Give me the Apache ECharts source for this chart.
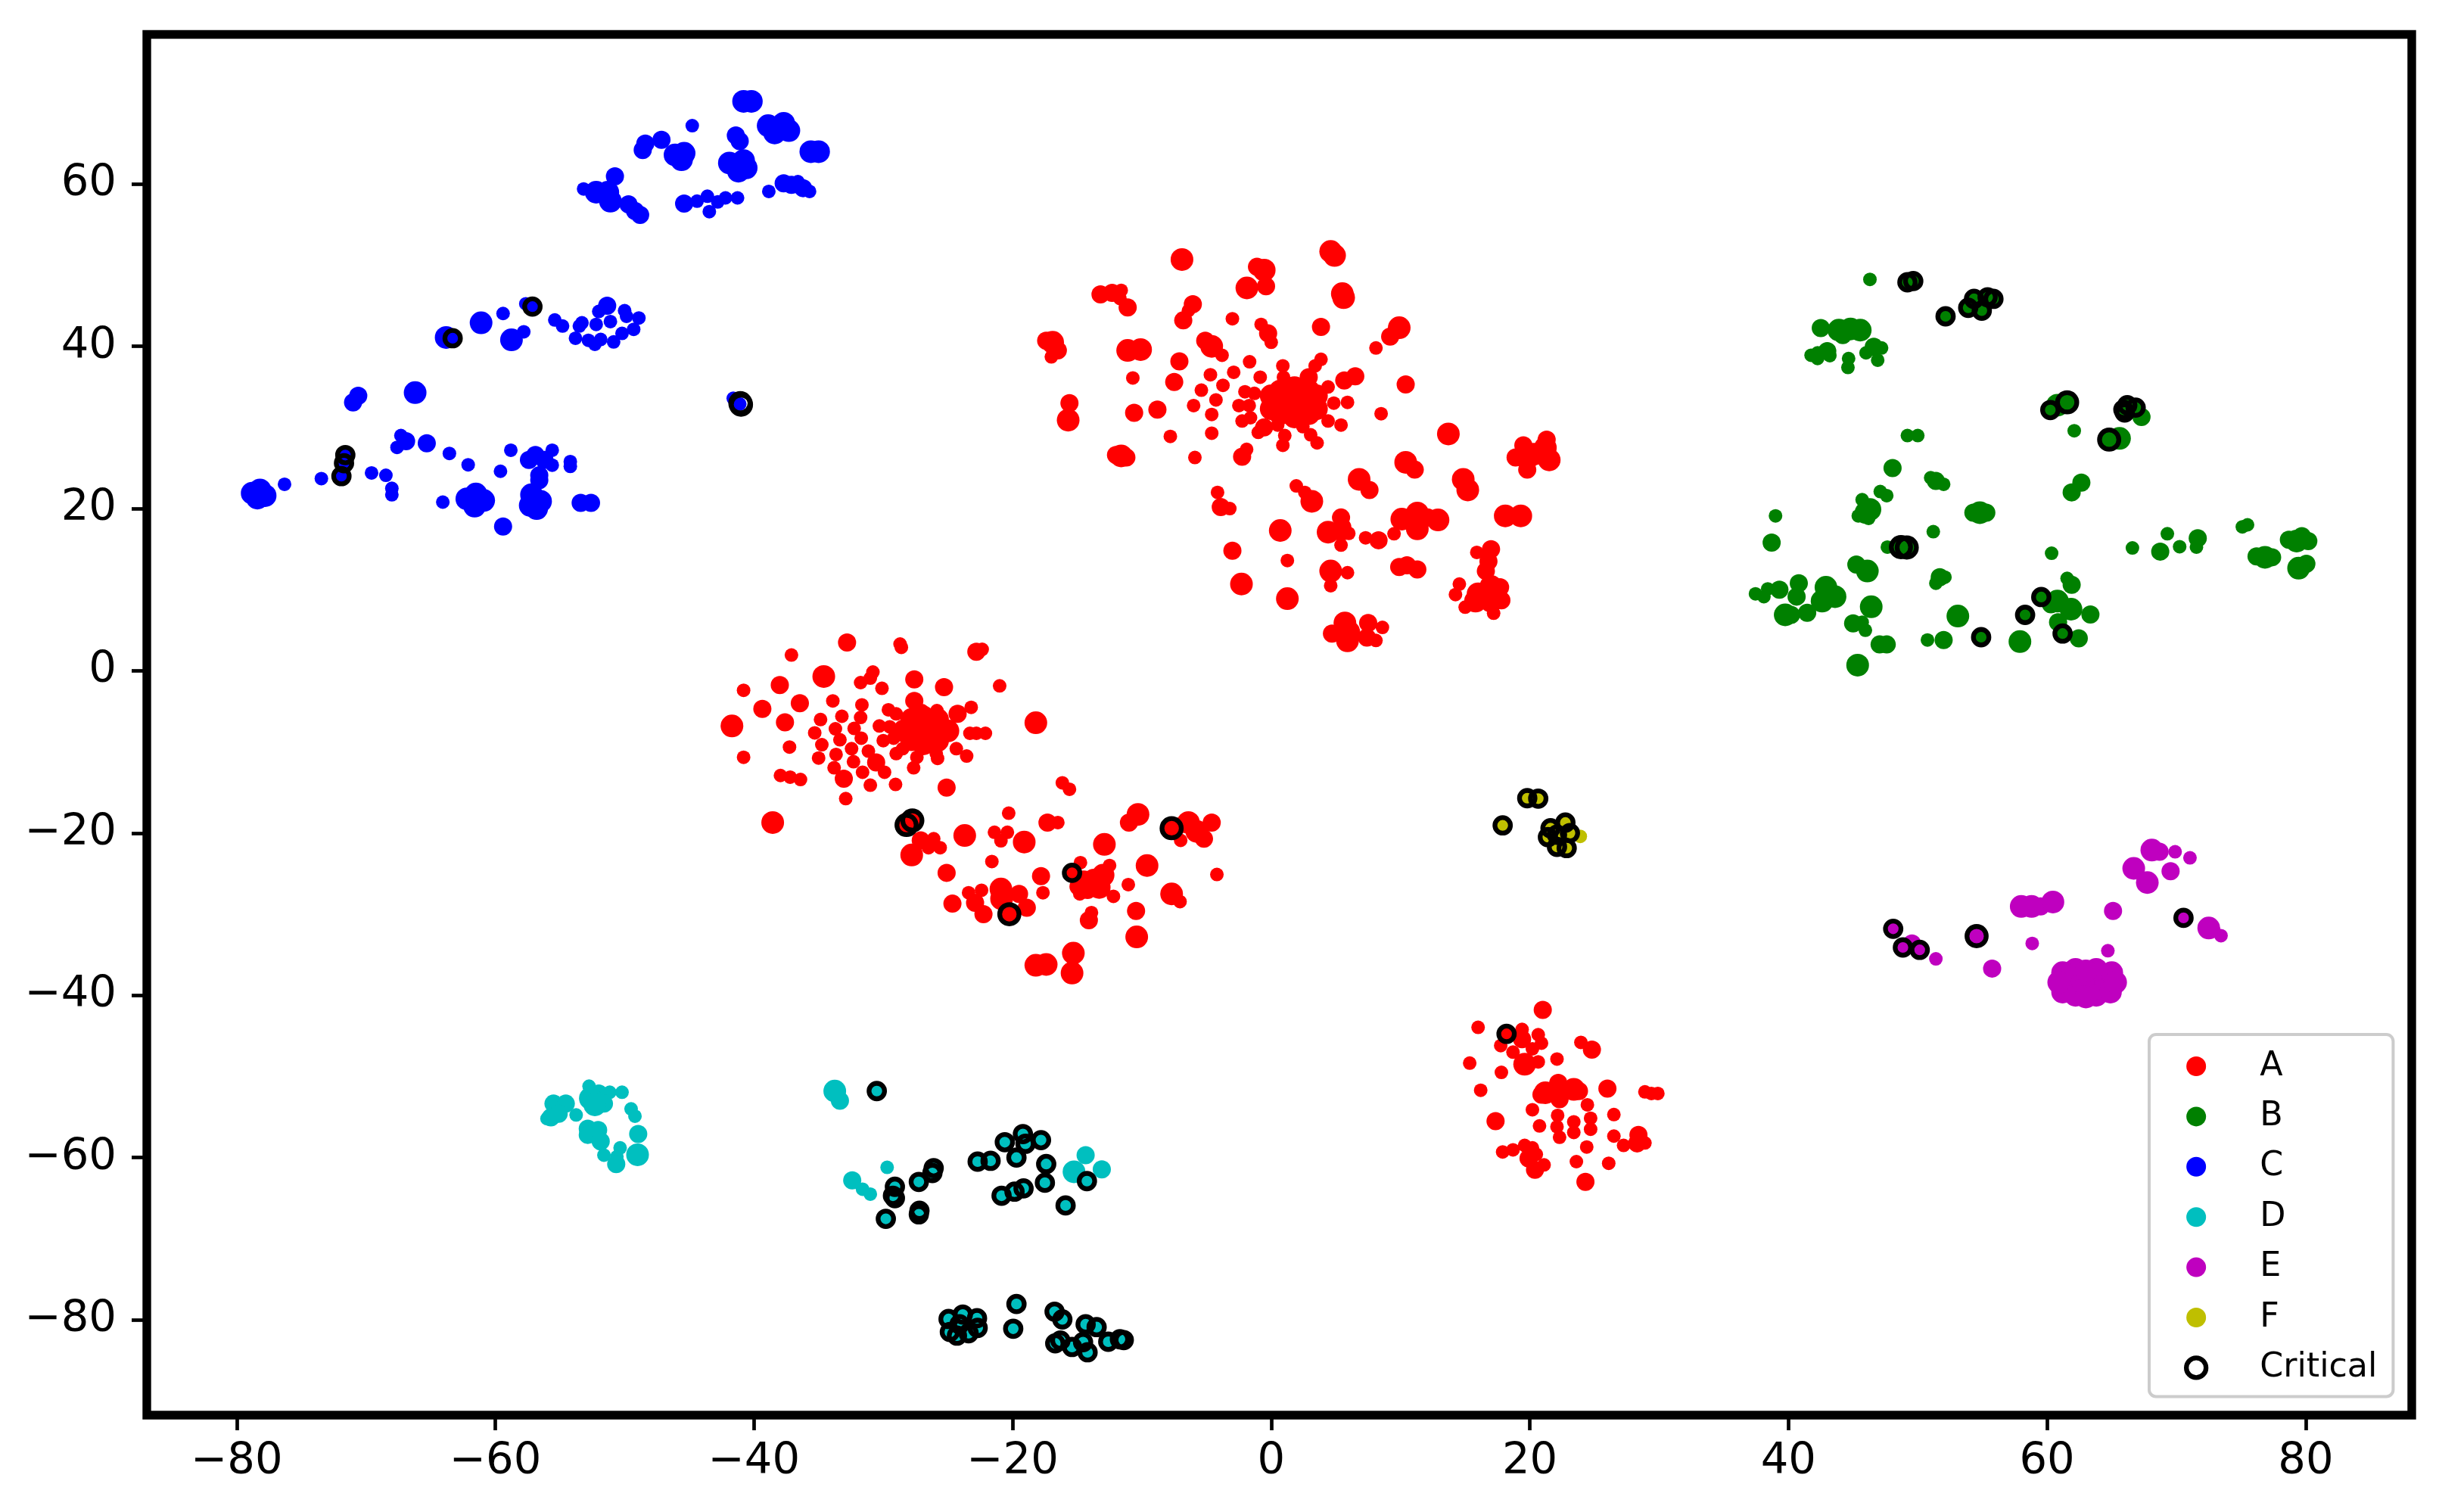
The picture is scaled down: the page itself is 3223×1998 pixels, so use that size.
<!DOCTYPE html>
<html><head><meta charset="utf-8">
<script src="https://cdn.jsdelivr.net/npm/echarts@6/dist/echarts.min.js"></script>
<style>html,body{margin:0;padding:0;background:#fff}#c{width:3223px;height:1998px}</style>
</head><body><div id="c"></div>
<script>
const xTicks=[-80,-60,-40,-20,0,20,40,60,80];
const yTicks=[-80,-60,-40,-20,0,20,40,60];
const legendNames=['A','B','C','D','E','F','Critical'];

const aSmall=[[-3,43.4],[-0.78,42.7],[0,40.5],[8.1,39.8],[-17,38.7],[-3.8,38.9],[-1.67,38.1],[3.85,38.4],[3.4,37.6],[-10.7,36.1],[-4.7,36.5],[-2.9,36.8],[-3.73,35.2],[-5.4,34.6],[-2.03,34.4],[-1.3,34.2],[-4.27,33.4],[-6,32.7],[-2.5,32.7],[-1.7,32.7],[-4.6,31.6],[-2.25,30.8],[-1.6,31.2],[-4.6,29.3],[-7.8,28.9],[4.84,33],[5.9,33.1],[8.5,31.7],[4.4,35],[4.4,30.8],[5.4,30.3],[0.9,37.6],[0.95,36.2],[-0.85,36.2],[3.6,32.2],[-1,29.4],[0.5,30.3],[1.05,29],[0.9,27.8],[3.05,29.1],[3.55,28.1],[2.45,30.1],[-5.9,26.3],[-1.9,27.3],[1.94,22.8],[2.6,22],[-4.15,22],[-3.2,20],[5.4,15.5],[6,16.95],[7.3,16.4],[9.5,16.9],[1.25,13.6],[4.6,10.5],[5.9,12.1],[15.9,14.6],[14.55,10.7],[14.25,9.4],[15,7.85],[17.2,7.1],[8.1,3.75],[8.6,5.35],[-11.7,45.9],[-11.6,46.9],[-6.4,44.4],
[-28.7,3.3],[-28.6,2.9],[-22.35,2.65],[-37.1,1.95],[-30.8,-0.15],[-31,-0.9],[-31.75,-1.45],[-30.1,-2.15],[-40.8,-2.4],[-21,-1.85],[-33.9,-3.7],[-31.65,-4.2],[-29.6,-4.8],[-29,-5.3],[-23.2,-4.5],[-25.85,-4.9],[-34.85,-6],[-33.2,-5.6],[-31.75,-5.75],[-33.7,-7.15],[-32.25,-7.1],[-30.3,-6.8],[-29.5,-6.9],[-27,-4.9],[-23.3,-7.7],[-22.8,-7.7],[-22.1,-7.7],[-35.3,-7.65],[-31.7,-8.3],[-33.35,-8.5],[-30,-8.6],[-29.2,-8.3],[-34.75,-9.1],[-37.25,-9.4],[-32.45,-9.6],[-31.15,-9.9],[-28.5,-9.6],[-29,-10.2],[-24.35,-9.6],[-23.55,-10.5],[-25.9,-10.2],[-25.8,-10.8],[-27.4,-10.65],[-27.65,-11.95],[-40.8,-10.65],[-35,-10.75],[-33.65,-10.3],[-32.3,-11.2],[-33.8,-11.95],[-31.6,-12.5],[-29.9,-12.5],[-37.95,-12.9],[-37.2,-13.1],[-36.4,-13.4],[-31,-14.1],[-29.05,-14],[-32.9,-15.75],[-16.15,-13.8],[-15.6,-14.6],
[-20.3,-17.55],[-16.5,-18.7],[-7,-20.9],[-21.4,-19.9],[-20.4,-19.9],[-20.9,-20.95],[-26.1,-20.7],[-26.5,-21.8],[-25.6,-21.8],[-21.6,-23.5],[-15.4,-24.9],[-14.75,-23.65],[-12.5,-24],[-4.2,-25.1],[-17.65,-27.35],[-11.05,-26.35],[-14.8,-27.5],[-12.2,-27.8],[-23.4,-27.35],[-22.4,-27.05],[-7.05,-28.45],[-13.9,-29.8],
[16,-43.95],[18.2,-44.75],[19.4,-44.2],[20.65,-44.85],[20.9,-45.9],[17.75,-46.2],[18.7,-47],[20.2,-46.6],[23.95,-45.8],[22.1,-47.85],[15.35,-48.35],[20.65,-48.2],[17.8,-49.5],[16.2,-51.7],[29.4,-52.1],[29.9,-52.1],[28.9,-51.9],[24.45,-53.5],[20.2,-54.1],[22.15,-54.8],[24.7,-55.15],[26.5,-54.7],[20.75,-56.1],[22.1,-56.2],[23.4,-55.6],[23.4,-56.9],[24.7,-56.5],[22.3,-57.5],[26.5,-57.35],[27.25,-58.5],[28.9,-58.2],[24.4,-58.7],[17.9,-59.3],[18.7,-59.05],[19.6,-58.5],[20.2,-58.8],[21.1,-60.9],[20.5,-59.6],[23.6,-60.5],[26.1,-60.7]];
const aMedium=[[-1.1,49.8],[-0.4,47.4],[-13.2,46.4],[-12.3,46.6],[-11.1,44.8],[-6.06,45.2],[-6.8,43.2],[-0.24,41.6],[3.85,42.4],[9.2,41.2],[-16.5,39.5],[-17.4,40.7],[-5.1,40.7],[-7.1,38.15],[5.65,35.8],[6.5,36.3],[-7.5,35.6],[-10.6,31.8],[-8.8,32.2],[-15.6,33],[10.4,35.3],[2.9,36.2],[-0.55,30],[-12,26.6],[-11.2,26.3],[-2.25,26.4],[11.1,24.8],[21.3,28.5],[19.5,27.8],[18.9,26.3],[19.8,24.8],[7.6,22.3],[-3.9,20.2],[5.4,18.9],[5.5,17.7],[5.4,17.1],[12.1,18.9],[8.3,16.1],[-3,14.8],[9.9,12.8],[10.5,13],[11.3,12.5],[17,15],[16.6,12.3],[16.8,13.5],[17.7,10.3],[17.8,8.7],[4.7,4.6],[7.5,5.9],[7.4,4.1],
[-32.8,3.5],[-22.8,2.35],[-38,-1.75],[-27.6,-1.05],[-25.3,-2],[-36.45,-4],[-39.35,-4.7],[-27.6,-3.7],[-24.25,-5.3],[-37.6,-6.35],[-30.55,-11.3],[-33.05,-13.3],[-25.1,-14.4],
[-7.7,-19.4],[-17.3,-18.7],[-11,-18.7],[-4.6,-18.7],[-7.3,-19.2],[-5.2,-20.7],[-27.1,-20.9],[-25.1,-24.9],[-17.8,-25.3],[-14.2,-27],[-14.9,-26.6],[-19.5,-27.5],[-18.9,-29.2],[-22.9,-28.6],[-24.65,-28.7],[-22.25,-30],[-10.45,-29.6],[-14.1,-30.75],
[21,-41.8],[19.4,-45.4],[24.8,-46.7],[22.2,-50.8],[23.8,-51.8],[20.9,-52.25],[22.3,-52.8],[26,-51.5],[17.35,-55.5],[28.4,-57.2],[28.3,-58.25],[19.9,-60.1],[20.4,-61.5],[24.3,-63]];
const aLarge=[[4.6,51.7],[4.9,51.2],[-6.9,50.7],[-0.54,49.4],[-1.88,47.2],[5.5,46.5],[5.6,46],[9.9,42.3],[-16.9,40.5],[-11.1,39.5],[-10.1,39.6],[-4.6,40],[-15.7,30.9],[1.7,33.1],[0.5,33.1],[2.9,33.1],[0.7,34.5],[1.8,34.9],[2.9,34.5],[0.7,31.7],[1.8,31.3],[2.9,31.7],[0,33.9],[3.5,33.9],[0,32.3],[3.5,32.3],[1.3,33.8],[2.3,32.3],[-11.6,26.5],[13.7,29.2],[10.4,25.7],[20.3,26.7],[19.8,26.2],[21.5,26],[21.2,27.5],[6.8,23.6],[14.85,23.6],[15.2,22.3],[3.14,20.9],[0.7,17.3],[4.4,17.1],[11.3,19.45],[10.1,18.7],[12.9,18.6],[11.3,17.5],[18.1,19.1],[19.3,19.1],[4.6,12.3],[-2.3,10.7],[1.25,8.9],[16,9.5],[17,10.4],[15.8,8.6],[17,8.6],[16.5,9.5],[5.7,5.9],[5.9,3.7],[6,4.8],
[-34.6,-0.7],[-41.7,-6.8],[-18.2,-6.4],[-26.7,-7.25],[-27.8,-7.2],[-25.6,-7.3],[-26.9,-5.7],[-25.8,-6],[-27.8,-6],[-26.9,-9],[-25.8,-8.6],[-27.8,-8.5],[-28.4,-7.4],[-25,-7.4],
[-28,-18.7],[-20.25,-30],[-38.55,-18.7],[-10.3,-17.7],[-6.4,-18.7],[-5.75,-19.8],[-12.9,-21.4],[-23.7,-20.3],[-19.1,-21.1],[-27.8,-22.7],[-13.7,-25.8],[-14.5,-26],[-13,-25.2],[-13.3,-26.7],[-9.6,-24],[-20.9,-26.9],[-20.85,-28.1],[-7.7,-27.5],[-10.4,-32.8],[-15.3,-34.8],[-15.4,-37.25],[-18.2,-36.3],[-17.4,-36.2],
[19.6,-48.5],[22.35,-51.8],[21.2,-52],[23.4,-51.6]];

const bSmall=[[46.3,48.25],[49.2,47.9],[49.65,48.05],[52.15,43.7],[54.35,45.85],[53.9,44.75],[54.95,44.4],[55.4,46.05],[55.85,45.85],[42.25,39.2],[41.75,38.9],[42.25,38.5],[43.2,38.85],[44.65,38.5],[44.6,37.4],[46,39.2],[47.2,39.8],[46.9,38.3],[66,31.85],[66.2,32.75],[66.85,32.45],[65.9,32.2],[60.25,32.15],[62.1,29.6],[49.2,29],[50,29],[51,23.8],[52,23],[47.1,22.1],[47.6,21.6],[45.7,21.1],[45.4,19.1],[46.2,18.8],[39,19.1],[51.2,17.15],[47.65,15.25],[75.1,17.75],[75.5,18],[69.3,16.9],[71.55,15.25],[70.25,15.3],[66.6,15.15],[60.35,14.5],[51.4,10.8],[52.1,11.55],[61.55,11.4],[38.4,10.1],[37.45,9.5],[38.1,9.15],[59.55,9.1],[58.3,6.9],[45.7,6],[45.95,5],[61.2,4.6],[54.9,4.15],[50.75,3.8]];
const bMedium=[[42.5,42.25],[44.2,41.4],[43,39.4],[46.6,39.95],[67.3,31.3],[48.05,25],[51.4,23.4],[62.65,23.2],[61.9,22],[54.3,19.5],[55.3,19.5],[38.7,15.8],[48.7,15.25],[49.15,15.2],[71.65,16.35],[68.75,14.7],[78.7,16.15],[80.2,16],[79.7,16.6],[76.2,14.1],[77.4,14],[80.05,13.2],[45.25,13.1],[51.7,11.55],[61.9,10.6],[40.8,10.8],[40.63,9.15],[39.3,10],[60.3,8.2],[63.35,6.95],[40.2,6.9],[41.45,7.15],[60.85,6],[45,5.85],[62.45,4],[52,3.8],[47.05,3.25],[47.6,3.25],[61.55,33.1],[64.8,28.5]];
const bLarge=[[43.9,42],[44.8,42.15],[45.55,42],[60.8,32.75],[65.6,28.65],[46,19.5],[46.3,19.9],[54.8,19.5],[79.3,16],[76.85,14],[79.45,12.65],[46.1,12.3],[42.9,10.3],[43.6,9.15],[42.6,8.6],[46.4,7.9],[60.8,8.6],[61.85,7.6],[53.1,6.75],[39.75,6.9],[57.9,3.6],[45.35,0.7]];

const cSmall=[[-44.77,67.2],[-53.17,59.4],[-44.4,57.9],[-43.6,58.5],[-42.8,57.8],[-42.2,58.3],[-41.27,58.3],[-43.45,56.6],[-38.85,59.1],[-35.7,59.1],[-36.6,60.3],[-57.64,45.25],[-57.13,44.9],[-59.4,44.05],[-63.3,41],[-57.8,41.8],[-55.4,43.25],[-54.8,42.5],[-53.3,42.9],[-53.5,42.5],[-52,44.3],[-52.2,42.7],[-51.1,43.05],[-50,44.4],[-49.85,43.7],[-48.9,43.5],[-49.3,42.1],[-50.2,41.6],[-50.85,40.55],[-53.8,41],[-52.8,40.75],[-52.3,40.25],[-51.85,40.85],[-41.6,33.6],[-41.1,32.9],[-67.3,29],[-67.6,27.55],[-63.55,26.8],[-62.1,25.4],[-59.6,24.6],[-58.8,27.2],[-55.6,27.2],[-55.6,25.35],[-54.2,25.8],[-54.2,25.2],[-71.4,26.7],[-71.6,26.6],[-71.7,25.6],[-71.9,24],[-73.45,23.7],[-76.3,23],[-69.57,24.4],[-68.46,24.1],[-68,22.5],[-68,21.7],[-64.06,20.8]];
const cMedium=[[-41.4,66],[-41.1,65.3],[-47.15,65.45],[-48.4,65],[-48.6,64.2],[-50.75,60.95],[-49.7,57.5],[-49.2,56.7],[-48.8,56.2],[-45.4,57.6],[-37.7,60.1],[-37.1,59.9],[-36.2,59.5],[-51.35,45],[-71,33.1],[-70.6,33.9],[-66.9,28.3],[-65.3,28.05],[-57.4,26],[-56.9,26.6],[-56.2,26],[-56.6,23.5],[-56.6,24.1],[-53.4,20.7],[-52.6,20.7],[-59.4,17.8]];
const cLarge=[[-40.8,70.2],[-40.2,70.2],[-38.9,67.2],[-37.7,67.5],[-37.3,66.6],[-38.4,66.3],[-46.1,63.6],[-45.4,63.8],[-45.6,63],[-41.9,62.6],[-40.8,62.9],[-41.2,61.6],[-40.6,62],[-35.6,64],[-35,64],[-51.3,59],[-51.1,57.9],[-52.2,59],[-61.1,42.9],[-63.8,41.1],[-58.75,40.8],[-66.2,34.3],[-78.8,21.9],[-78.2,22.3],[-77.8,21.6],[-78.4,21.3],[-62.2,21.2],[-61.5,21.8],[-60.9,21],[-61.6,20.3],[-57.2,21.7],[-56.5,20.9],[-57.3,20.4],[-56.8,20]];

const dSmall=[[-52.75,-51.2],[-51.15,-51.95],[-50.2,-51.95],[-56,-55.2],[-53.75,-54.75],[-49.5,-54],[-49.2,-54.9],[-51.6,-59.7],[-50.35,-58.8],[-50.6,-59.9],[-29.7,-61.2],[-31.6,-63.9],[-31,-64.5],
[-30.5,-51.8],[-26.2,-61.9],[-26.1,-61.3],[-27.25,-63],[-29.1,-63.6],[-29.25,-64.7],[-29.1,-65],[-29.8,-67.55],[-27.2,-66.55],[-27.25,-67],[-20.6,-58.1],[-19.2,-57.1],[-17.8,-57.85],[-19,-58.3],[-19.7,-60],[-22.7,-60.5],[-21.7,-60.4],[-17.4,-60.8],[-17.5,-63.1],[-20.85,-64.7],[-19.85,-64.2],[-19.15,-63.8],[-14.25,-62.9],[-15.9,-65.9],[-19.7,-78.05],[-19.95,-81.1],[-16.75,-79],[-16.15,-79.95],[-14.35,-80.55],[-13.5,-80.9],[-16.3,-82.55],[-15.4,-83.35],[-16.7,-82.9],[-14.55,-82.75],[-14.2,-84],[-12.6,-82.7],[-11.4,-82.5],[-11.7,-82.4],[-24.95,-79.9],[-23.85,-79.35],[-22.75,-79.8],[-24.85,-81.5],[-24.3,-81.95],[-23.4,-81.65],[-22.7,-81],[-24.1,-80.55]];
const dMedium=[[-52,-52.1],[-51.6,-53.35],[-55.5,-53.35],[-54.55,-53.35],[-55.7,-55.05],[-55.1,-54.6],[-52.85,-56.45],[-52.05,-56.6],[-52.85,-57.2],[-51.85,-58],[-48.95,-57.1],[-50.65,-60.8],[-33.35,-53],[-32.4,-62.8],[-14.35,-59.7],[-13.1,-61.45]];
const dLarge=[[-52.65,-52.7],[-52.3,-53.5],[-49,-59.65],[-33.75,-51.8],[-15.25,-61.75]];

const eSmall=[[48.1,-31.8],[48.85,-34.1],[50.15,-34.4],[70.55,-30.45],[51.4,-35.5],[58.85,-33.6],[64.7,-34.5],[69.9,-22.3],[71.05,-23.05],[73.45,-32.65],[72.9,-32]];
const eMedium=[[54.55,-32.7],[49.55,-33.6],[55.75,-36.7],[65.1,-29.6],[59.5,-29.05],[68.7,-22.3],[69.55,-24.7]];
const eLarge=[[58,-29.05],[58.8,-29.05],[60.45,-28.5],[68.1,-22.1],[66.7,-24.35],[67.75,-26.1],[72.5,-31.7],[63,-38.4],[61.5,-38.4],[64.5,-38.4],[62.2,-36.8],[63.8,-36.8],[62.2,-40],[63.8,-40],[61.2,-37.2],[65,-37.2],[61.2,-39.6],[64.9,-39.6],[63,-37],[63,-40.2],[60.9,-38.4],[65.3,-38.4]];

const fSmall=[[19.8,-15.7],[20.65,-15.75],[17.9,-19.05],[21.6,-19.4],[22.75,-18.7],[21.4,-20.5],[23.1,-20],[22.1,-21.7],[22.85,-21.85],[22.1,-20.2],[23.9,-20.4]];

const critical=[[-57.13,44.9],[-63.3,41],[-71.6,26.6],[-71.7,25.6],[-71.9,24],[18.2,-44.75],[-15.4,-24.9],
[49.2,47.9],[49.65,48.05],[52.15,43.7],[54.35,45.85],[53.9,44.75],[54.95,44.4],[55.4,46.05],[55.85,45.85],[60.25,32.15],[66,31.85],[66.2,32.75],[66.85,32.45],[65.9,32.2],[59.55,9.1],[58.3,6.9],[61.2,4.6],[54.9,4.15],
[-30.5,-51.8],[-26.2,-61.9],[-26.1,-61.3],[-27.25,-63],[-29.1,-63.6],[-29.25,-64.7],[-29.1,-65],[-29.8,-67.55],[-27.2,-66.55],[-27.25,-67],[-20.6,-58.1],[-19.2,-57.1],[-17.8,-57.85],[-19,-58.3],[-19.7,-60],[-22.7,-60.5],[-21.7,-60.4],[-17.4,-60.8],[-17.5,-63.1],[-20.85,-64.7],[-19.85,-64.2],[-19.15,-63.8],[-14.25,-62.9],[-15.9,-65.9],[-19.7,-78.05],[-19.95,-81.1],[-16.75,-79],[-16.15,-79.95],[-14.35,-80.55],[-13.5,-80.9],[-16.3,-82.55],[-15.4,-83.35],[-16.7,-82.9],[-14.55,-82.75],[-14.2,-84],[-12.6,-82.7],[-11.4,-82.5],[-11.7,-82.4],[-24.95,-79.9],[-23.85,-79.35],[-22.75,-79.8],[-24.85,-81.5],[-24.3,-81.95],[-23.4,-81.65],[-22.7,-81],[-24.1,-80.55],
[19.8,-15.7],[20.65,-15.75],[17.9,-19.05],[21.6,-19.4],[22.75,-18.7],[21.4,-20.5],[23.1,-20],[22.1,-21.7],[22.85,-21.85],[22.1,-20.2],
[48.1,-31.8],[48.85,-34.1],[50.15,-34.4],[70.55,-30.45]];
const criticalLarge=[[-41,32.8],[-41.05,33],[-27.75,-18.45],[-28.2,-19],[-7.7,-19.4],[-20.25,-30],[61.55,33.1],[64.8,28.5],[48.7,15.25],[49.15,15.2],[54.55,-32.7]];

const COLORS={A:'#ff0000',B:'#008000',C:'#0000ff',D:'#00bfbf',E:'#bf00bf',F:'#bfbf00'};
const SIZE={s:18,m:24,l:30};
const RING={color:'rgba(0,0,0,0)',borderColor:'#000',borderWidth:6.3,opacity:1};
function pts(name,data,size){return {name,type:'scatter',data,symbol:'circle',symbolSize:size,silent:true,z:2,
  itemStyle:{color:COLORS[name],opacity:1},emphasis:{disabled:true},animation:false};}
function ring(data,size){return {name:'Critical',type:'scatter',data,symbol:'circle',symbolSize:size,silent:true,z:3,
  itemStyle:RING,emphasis:{disabled:true},animation:false};}
const series=[
 pts('A',aSmall,SIZE.s),pts('A',aMedium,SIZE.m),pts('A',aLarge,SIZE.l),
 pts('B',bSmall,SIZE.s),pts('B',bMedium,SIZE.m),pts('B',bLarge,SIZE.l),
 pts('C',cSmall,SIZE.s),pts('C',cMedium,SIZE.m),pts('C',cLarge,SIZE.l),
 pts('D',dSmall,SIZE.s),pts('D',dMedium,SIZE.m),pts('D',dLarge,SIZE.l),
 pts('E',eSmall,SIZE.s),pts('E',eMedium,SIZE.m),pts('E',eLarge,SIZE.l),
 pts('F',fSmall,SIZE.s),
 ring(critical,20.5),ring(criticalLarge,25.5)
];
const font='"DejaVu Sans"';
const minus=v=>String(v).replace('-','\u2212');
function axis(min,max,ticks,margin,padding){return {type:'value',min,max,splitLine:{show:false},axisLine:{show:false,onZero:false},
  axisTick:{show:true,length:20,lineStyle:{color:'#000',width:4.7},customValues:ticks},
  axisLabel:{show:true,fontFamily:font,fontSize:57.6,color:'#000',margin,padding,customValues:ticks,formatter:minus}};}
const chart=echarts.init(document.getElementById('c'),null,{renderer:'canvas',width:3223,height:1998,devicePixelRatio:1});
chart.setOption({
 animation:false,backgroundColor:'#fff',
 grid:{show:true,left:194,right:36,top:45.5,bottom:128,borderColor:'#000',borderWidth:11.4,backgroundColor:'#fff'},
 xAxis:axis(-86.95,88.2,xTicks,33,[0,0,0,0]),
 yAxis:axis(-91.75,78.45,yTicks,40,[4,0,0,0]),
 legend:{orient:'vertical',left:2840,top:1367,padding:[17,21,13,46],itemWidth:158,itemHeight:26,itemGap:16.4,
  selectedMode:false,icon:'circle',backgroundColor:'#fff',borderColor:'#cccccc',borderWidth:4,borderRadius:9,
  textStyle:{fontFamily:font,fontSize:44.4,color:'#000',lineHeight:50},
  data:legendNames.map(name=>name==='Critical'?{name,icon:'circle',itemStyle:RING}:{name,icon:'circle'})},
 series
});
</script></body></html>
